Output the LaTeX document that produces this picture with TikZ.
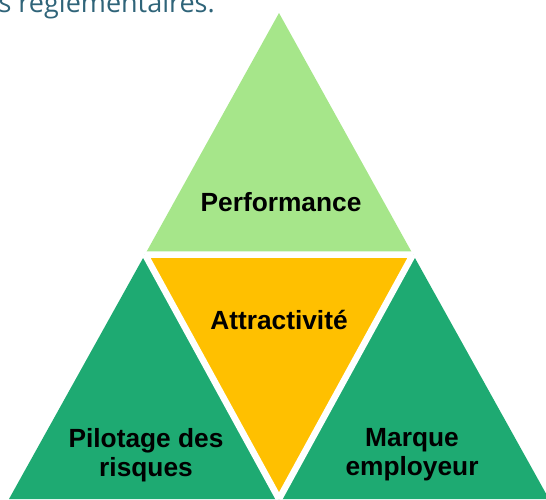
\documentclass[tikz,border=0pt]{standalone}
\usepackage{fontspec}
\setmainfont{Liberation Sans}
\newfontfamily\introfont{Open Sans}
\usepackage{tikz}
\usepackage{xcolor}
\usetikzlibrary{calc, positioning}
\definecolor{perfgreen}{HTML}{A6E68A}
\definecolor{riskgreen}{HTML}{1EAA72}
\definecolor{attrgold}{HTML}{FFC000}
\definecolor{introteal}{HTML}{2F6479}
\newcommand{\lblfont}{\fontsize{26.3}{29}\selectfont\bfseries}

\begin{document}
\begin{tikzpicture}[x=1pt, y=-1pt,
                    lbl/.style={font=\lblfont, align=center, inner sep=0pt},
                    gap/.style={white, line width=6.5pt, line join=miter}]
                        \useasboundingbox (0,0) rectangle (546,499);
                        \clip (0,0) rectangle (546,499);

                        \coordinate (apex) at (279, 13);
                        \coordinate (ml) at (145, 254.5);
                        \coordinate (mr) at (413, 254.5);
                        \coordinate (mb) at (279, 499);
                        \coordinate (bl) at (9, 499);
                        \coordinate (br) at (549, 499);

                        \fill[perfgreen] (apex) -- (ml) -- (mr) -- cycle;
                        \fill[attrgold] (ml) -- (mr) -- (mb) -- cycle;
                        \fill[riskgreen] (ml) -- (bl) -- (mb) -- cycle;
                        \fill[riskgreen] (mr) -- (mb) -- (br) -- cycle;

                        \draw[gap]
                        (ml) -- (mr)
                        (mr) -- (mb)
                        (mb) -- (ml);

                        \node[anchor=base east, inner sep=0pt, text=introteal,
                              font=\introfont\fontsize{27}{32}\selectfont] (intro) at (215, 12) {s réglementaires.};

                        \node[lbl, anchor=base] (perf) at (281, 211) {Performance};
                        \node[lbl, anchor=base] (attr) at (279, 329) {Attractivité};
                        \node[lbl] (risk) at (146, 455) {Pilotage des\\risques};
                        \node[lbl] (brand) at (412, 455) {Marque\\employeur};
                    \end{tikzpicture}
\end{document}
